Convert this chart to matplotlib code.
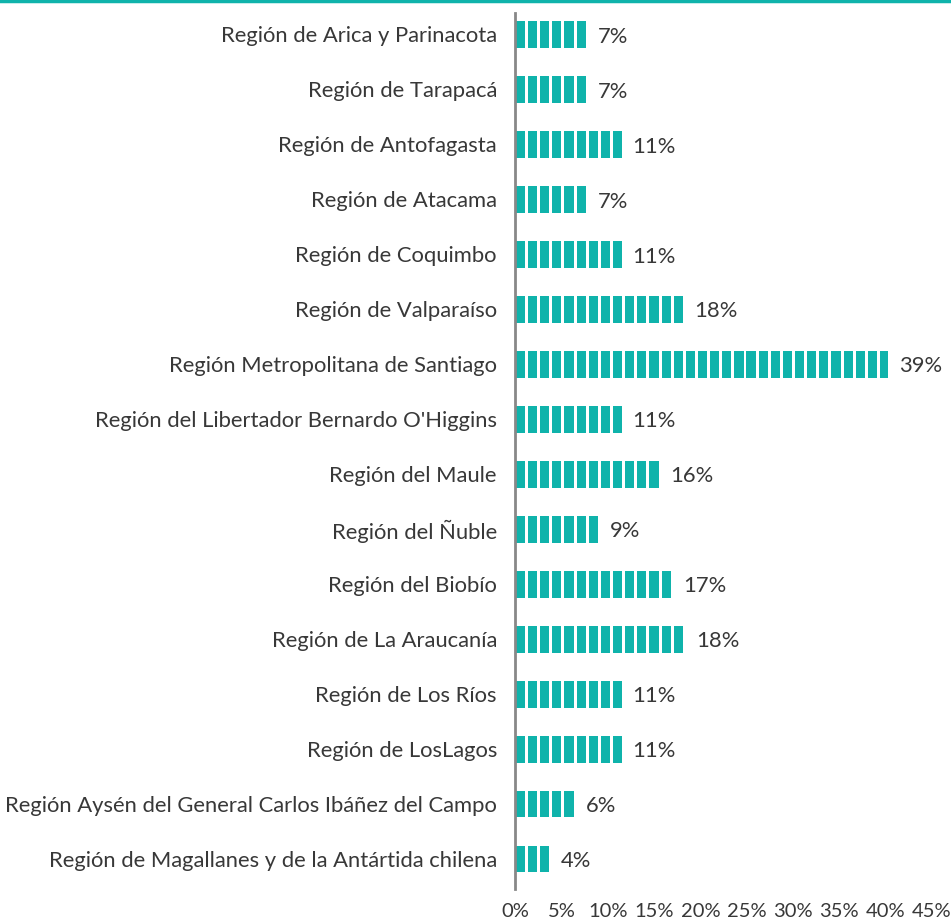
import numpy as np
from matplotlib import pyplot as plt
from matplotlib.lines import Line2D

# datos
regiones = [
    "Región de Arica y Parinacota",
    "Región de Tarapacá",
    "Región de Antofagasta",
    "Región de Atacama",
    "Región de Coquimbo",
    "Región de Valparaíso",
    "Región Metropolitana de Santiago",
    "Región del Libertador Bernardo O'Higgins",
    "Región del Maule",
    "Región del Ñuble",
    "Región del Biobío",
    "Región de La Araucanía",
    "Región de Los Ríos",
    "Región de LosLagos",
    "Región Aysén del General Carlos Ibáñez del Campo",
    "Región de Magallanes y de la Antártida chilena",
]
# largo de barra (en %)
valores = [7.7, 7.7, 11.5, 7.7, 11.5, 18.1, 40.3, 11.5, 15.5, 9.0, 16.9, 18.4, 11.5, 11.5, 6.4, 3.7]
etiquetas = ["7%", "7%", "11%", "7%", "11%", "18%", "39%", "11%", "16%", "9%",
             "17%", "18%", "11%", "11%", "6%", "4%"]
ticks = [0, 5, 10, 15, 20, 25, 30, 35, 40, 45]

TEAL = "#0FB3AB"
TEXTO = "#383838"
FS = 15.8

plt.rcParams['font.family'] = ['Lato', 'DejaVu Sans']

fig = plt.figure(figsize=(9.51, 9.18), dpi=100)
W, H = 951, 918
ax = fig.add_axes([515 / W, 1 - 889 / H, 417 / W, (889 - 13) / H])

y = np.arange(len(regiones))
ax.barh(y, valores, height=0.49, color=TEAL, zorder=1)

# separaciones blancas de los segmentos
x0 = 1.08
while x0 < 45:
    ax.axvspan(x0, x0 + 0.32, color="white", lw=0, zorder=2)
    x0 += 1.31

for yi, v, t in zip(y, valores, etiquetas):
    ax.text(v + 1.2, yi + 0.04, t, va="center", ha="left", fontsize=FS,
            color=TEXTO, zorder=3)

ax.set_xlim(0, 45)
ax.set_ylim(len(regiones) - 1 + 0.546, -0.39)
ax.set_yticks(y)
ax.set_yticklabels(regiones, fontsize=FS, color=TEXTO)
ax.set_xticks(ticks)
ax.set_xticklabels([f"{t}%" for t in ticks], fontsize=FS - 1.3, color=TEXTO)
ax.tick_params(axis="y", length=0, pad=13)
ax.tick_params(axis="x", length=0, pad=10)

for s in ["top", "right", "bottom"]:
    ax.spines[s].set_visible(False)
ax.spines["left"].set_color("#888888")
ax.spines["left"].set_linewidth(2)
ax.spines["left"].set_zorder(4)

# linea superior
fig.add_artist(Line2D([0, 1], [1 - 1 / H, 1 - 1 / H], transform=fig.transFigure,
                      color=TEAL, lw=2.5))

fig.savefig("out.png", dpi=100)
